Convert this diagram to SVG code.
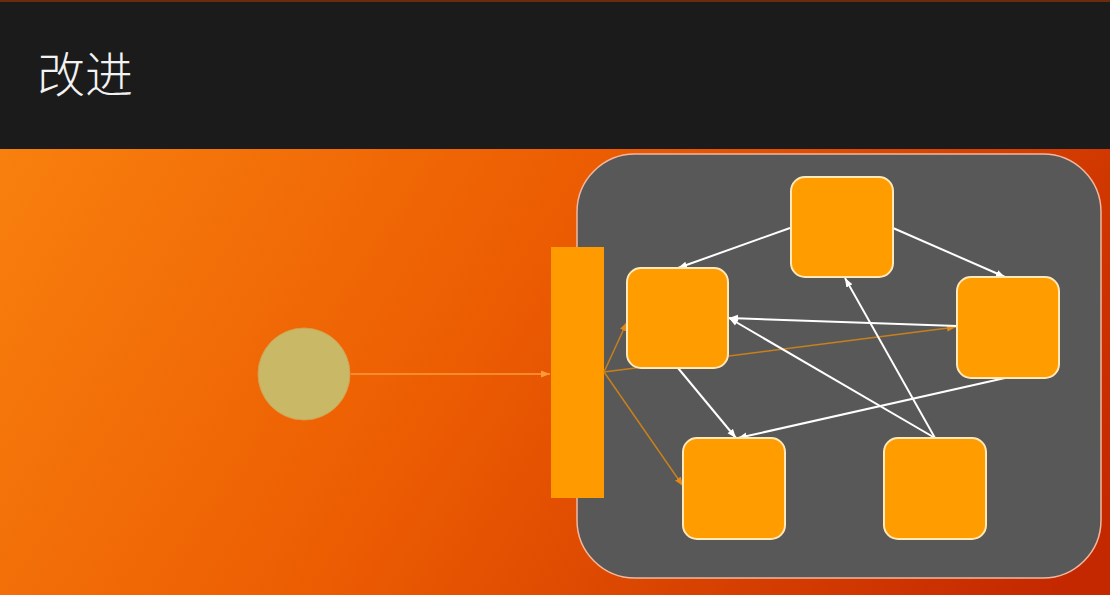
<svg xmlns="http://www.w3.org/2000/svg" width="1110" height="595" viewBox="0 0 1110 595">
  <defs>
    <linearGradient id="bg" x1="0" y1="150" x2="950" y2="760" gradientUnits="userSpaceOnUse">
      <stop offset="0" stop-color="#f8800e"/>
      <stop offset="0.45" stop-color="#ec5c02"/>
      <stop offset="1" stop-color="#c42800"/>
    </linearGradient>
    <marker id="aw" markerWidth="10" markerHeight="8" refX="9" refY="4" orient="auto" markerUnits="userSpaceOnUse">
      <path d="M0,0.5 L9,4 L0,7.5 z" fill="#ffffff"/>
    </marker>
    <marker id="ao" markerWidth="10" markerHeight="8" refX="9" refY="4" orient="auto" markerUnits="userSpaceOnUse">
      <path d="M0,0.5 L9,4 L0,7.5 z" fill="#e08a1a"/>
    </marker>
    <marker id="ao2" markerWidth="10" markerHeight="8" refX="9" refY="4" orient="auto" markerUnits="userSpaceOnUse">
      <path d="M0,0.5 L9,4 L0,7.5 z" fill="#ff9a3a"/>
    </marker>
  </defs>
  <style>
    .node { fill: #ff9c00; stroke: #ffe9b8; stroke-width: 2; }
    .w { stroke: #ffffff; stroke-width: 2; fill: none; marker-end: url(#aw); }
    .o { stroke: #c8801c; stroke-width: 1.5; fill: none; marker-end: url(#ao); }
    .title { font-family: "Noto Sans CJK SC", "Noto Sans", sans-serif; font-size: 48px; font-weight: 300; fill: #f2f2f2; }
  </style>

  <rect x="0" y="0" width="1110" height="595" fill="url(#bg)"/>
  <rect x="0" y="0" width="1110" height="149" fill="#1b1b1b"/>
  <rect x="0" y="0" width="1110" height="2" fill="#6a2c0a"/>
  <text class="title" x="37" y="92">改进</text>

  <g id="container">
    <rect x="577" y="154" width="524" height="424" rx="58" ry="58" fill="#585858" stroke="#f0b8a0" stroke-width="1.5"/>
  </g>

  <g id="source">
    <circle cx="304" cy="374" r="46" fill="#c9b866" stroke="#d6a050" stroke-width="1"/>
  </g>

  <g id="bar">
    <rect x="551" y="247" width="53" height="251" fill="#ff9a00"/>
  </g>

  <g id="connectors">
    <line x1="351" y1="374" x2="550" y2="374" stroke="#ff9a3a" stroke-width="1.5" marker-end="url(#ao2)"/>
    <line class="o" x1="604" y1="372" x2="627" y2="322"/>
    <line class="o" x1="604" y1="372" x2="956" y2="327"/>
    <line class="o" x1="604" y1="372" x2="683" y2="486"/>
    <line class="w" x1="790" y1="228" x2="678" y2="268"/>
    <line class="w" x1="893" y1="228" x2="1005" y2="277"/>
    <line class="w" x1="957" y1="326" x2="729" y2="318"/>
    <line class="w" x1="678" y1="368" x2="736" y2="438"/>
    <line class="w" x1="1005" y1="378" x2="738" y2="438"/>
    <line class="w" x1="935" y1="438" x2="729" y2="318"/>
    <line class="w" x1="935" y1="438" x2="845" y2="278"/>
  </g>

  <g id="node-top"><rect class="node" x="791" y="177" width="102" height="100" rx="14"/></g>
  <g id="node-left"><rect class="node" x="627" y="268" width="101" height="100" rx="14"/></g>
  <g id="node-right"><rect class="node" x="957" y="277" width="102" height="101" rx="14"/></g>
  <g id="node-bottom-left"><rect class="node" x="683" y="438" width="102" height="101" rx="14"/></g>
  <g id="node-bottom-right"><rect class="node" x="884" y="438" width="102" height="101" rx="14"/></g>
</svg>
